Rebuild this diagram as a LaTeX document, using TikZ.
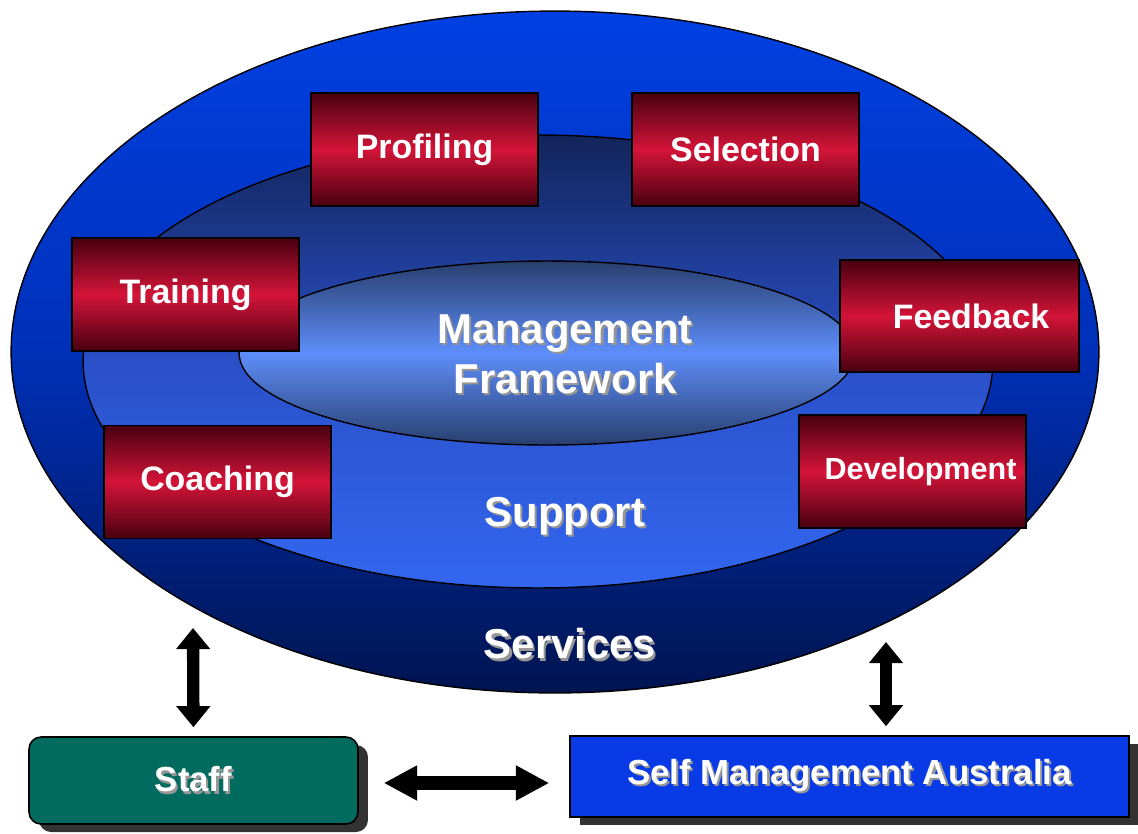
\documentclass[tikz,border=0pt]{standalone}
\usepackage{fontspec}
\setmainfont{Liberation Sans}
\usetikzlibrary{shapes.geometric,arrows.meta,shadows}

\definecolor{outertop}{RGB}{0,64,226}
\definecolor{outermid}{RGB}{0,48,184}
\definecolor{outerbot}{RGB}{0,20,80}
\definecolor{midtop}{RGB}{18,36,90}
\definecolor{midmid}{RGB}{42,80,200}
\definecolor{midbot}{RGB}{51,102,240}
\definecolor{innerdark}{RGB}{40,62,110}
\definecolor{innerlight}{RGB}{94,142,250}
\definecolor{reddark}{RGB}{72,0,16}
\definecolor{redmid}{RGB}{212,20,56}
\definecolor{staffgreen}{RGB}{0,107,94}
\definecolor{smablue}{RGB}{8,58,230}
\definecolor{boxshade}{RGB}{51,51,51}
\definecolor{txtshade}{RGB}{150,150,150}

\newcommand{\shtxt}[1]{\makebox[0pt][l]{\hspace{1.2pt}\raisebox{-1.2pt}{\textcolor{txtshade}{#1}}}#1}

\begin{document}
\begin{tikzpicture}[x=0.02cm,y=-0.02cm,font=\bfseries]
\tikzset{E/.style={ellipse,draw=black,line width=0.8pt,inner sep=0pt},
R/.style={rectangle,draw=black,line width=0.8pt,minimum width=4.54cm,minimum height=2.26cm,
top color=reddark,bottom color=reddark,middle color=redmid,text=white,
font=\fontsize{19.3}{23}\selectfont\bfseries},
L/.style={text=white,align=center,font=\fontsize{23.8}{28.4}\selectfont\bfseries},
B/.style={draw=black,line width=0.9pt,text=white,font=\fontsize{19.8}{24}\selectfont\bfseries,
drop shadow={shadow xshift=0.2cm,shadow yshift=-0.16cm,fill=boxshade,opacity=1}},
A/.style={line width=7pt,{Triangle[width=18.7pt,length=12pt]}-{Triangle[width=18.7pt,length=12pt]}},
AH/.style={line width=8pt,{Triangle[width=18.7pt,length=19pt]}-{Triangle[width=18.7pt,length=19pt]}}
}
\useasboundingbox (0,0) rectangle (1138,833);

% The ellipses
\node[E,minimum width=21.76cm,minimum height=13.64cm,top color=outertop,bottom color=outerbot,middle color=outermid] (outer) at (555,352) {};
\node[E,minimum width=18.2cm,minimum height=9.06cm,top color=midtop,bottom color=midbot,middle color=midmid] (middle) at (538,361.5) {};
\node[E,minimum width=12.32cm,minimum height=3.68cm,top color=innerdark,bottom color=innerdark,middle color=innerlight] (inner) at (547,353) {};

% ring labels
\node[L] (mf) at (565,355) {\shtxt{Management}\\\shtxt{Framework}};
\node[L] (support) at (565,517) {\shtxt{Support}};
\node[L] (services) at (570,645) {\shtxt{Services}};

% The red boxes
\node[R] (profiling) at (424.5,149.5) {Profiling};
\node[R] (selection) at (745.5,149.5) {Selection};
\node[R] (training) at (185.5,294.5) {Training};
\node[R,minimum width=4.78cm,minimum height=2.24cm] (feedback) at (959.5,316) {\hspace*{0.46cm}Feedback};
\node[R] (coaching) at (217.5,482) {Coaching};
\node[R,font=\fontsize{17.4}{21}\selectfont\bfseries] (development) at (912.5,471.5) {\hspace*{0.32cm}Development};

% bottom boxes
\node[B,rounded corners=0.24cm,fill=staffgreen,minimum width=6.58cm,minimum height=1.74cm] (staff) at (193.5,780.5) {\shtxt{Staff}};
\node[B,fill=smablue,minimum width=11.18cm,minimum height=1.62cm] (sma) at (849.5,776.5) {\shtxt{Self Management Australia}};

% arrows
\coordinate (svcL) at (193,628);
\coordinate (svcR) at (886,642);
\coordinate (hmid) at (466,783);
\draw[A,shorten >=0.18cm] (svcL) -- (staff.north);
\draw[A,shorten >=0.18cm] (svcR) -- (svcR |- sma.north);
\draw[AH,shorten <=0.5cm,shorten >=0.4cm] (staff.east |- hmid) -- (sma.west |- hmid);

\end{tikzpicture}
\end{document}
